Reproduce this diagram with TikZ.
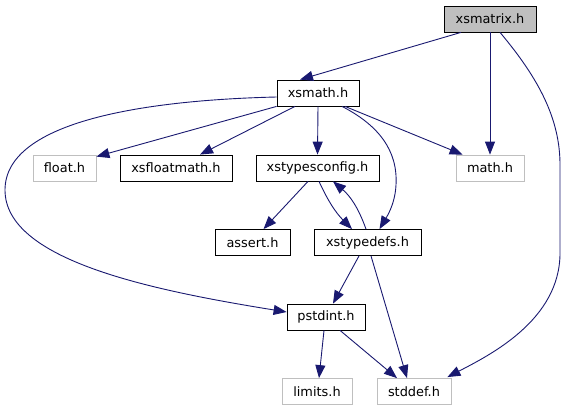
\documentclass[tikz,border=0pt]{standalone}
\usepackage{fontspec}
\setmainfont{DejaVu Sans}
\usetikzlibrary{arrows.meta}
\definecolor{edgeblue}{RGB}{25,25,112}
\definecolor{boxgray}{RGB}{191,191,191}

\begin{document}
\begin{tikzpicture}[x=1pt, y=-1pt, line width=0.8pt,
  every node/.style={font=\fontsize{12.9}{15}\selectfont, inner sep=0pt, minimum height=26pt},
  file/.style={draw=black},
  sysfile/.style={draw=boxgray},
  edge/.style={draw=edgeblue, line width=0.9pt, -{Triangle[length=13pt, width=10pt]}}]

\useasboundingbox (0,0) rectangle (567,411);

% Project headers
\node[file, fill=boxgray, minimum width=92pt] (xsmatrix) at (490,19) {xsmatrix.h};
\node[file, minimum width=82pt] (xsmath) at (318,93) {xsmath.h};
\node[file, minimum width=112pt] (xsfloatmath) at (176,168) {xsfloatmath.h};
\node[file, minimum width=123pt] (xstypesconfig) at (317.5,168) {xstypesconfig.h};
\node[file, minimum width=75pt] (assert) at (252.5,242.5) {assert.h};
\node[file, minimum width=107pt] (xstypedefs) at (367.5,242.5) {xstypedefs.h};
\node[file, minimum width=78pt] (pstdint) at (326,317) {pstdint.h};

% System headers
\node[sysfile, minimum width=63pt] (float) at (64.5,168) {float.h};
\node[sysfile, minimum width=68pt] (math) at (490,168) {math.h};
\node[sysfile, minimum width=70pt] (limits) at (317,391.5) {limits.h};
\node[sysfile, minimum width=74pt] (stddef) at (414,391.5) {stddef.h};

% Includes of xsmatrix.h
\draw[edge] ([xshift=-29pt]xsmatrix.south) -- ([xshift=-18pt]xsmath.north);
\draw[edge] (xsmatrix.south) -- (math.north);
\draw[edge] ([xshift=10pt]xsmatrix.south) .. controls (540,80) and (560,120) .. (560,165)
  -- (560,253) .. controls (560,320) and (490,355) .. ([xshift=-4pt,yshift=1pt]stddef.north east);

% Includes of xsmath.h
\draw[edge] (xsmath.south west) -- ([yshift=-2pt]float.north east);
\draw[edge] ([xshift=-23pt]xsmath.south) -- ([xshift=24pt]xsfloatmath.north);
\draw[edge] (xsmath.south) -- (xstypesconfig.north);
\draw[edge] ([xshift=27pt]xsmath.south) -- ([xshift=7pt]math.north west);
\draw[edge] ([xshift=24pt]xsmath.south) .. controls (378,125) and (398,150) .. (396,185)
  .. controls (395,205) and (386,218) .. ([xshift=12pt]xstypedefs.north);
\draw[edge] ([yshift=-4pt]xsmath.west) .. controls (150,100) and (5,120) .. (5,190)
  .. controls (5,260) and (150,290) .. ([yshift=5pt]pstdint.west);

% Includes of xstypesconfig.h and xstypedefs.h
\draw[edge] ([xshift=-9.5pt]xstypesconfig.south) -- ([xshift=11pt]assert.north);
\draw[edge] ([xshift=1.5pt]xstypesconfig.south) to[bend right=10] ([xshift=-15.5pt]xstypedefs.north);
\draw[edge] ([xshift=-1.5pt]xstypedefs.north) to[bend right=15] ([xshift=15.5pt]xstypesconfig.south);
\draw[edge] ([xshift=-8.5pt]xstypedefs.south) -- ([xshift=7pt]pstdint.north);
\draw[edge] ([xshift=3.5pt]xstypedefs.south) -- ([xshift=-7pt]stddef.north);

% Includes of pstdint.h
\draw[edge] ([xshift=-2pt]pstdint.south) -- ([xshift=2pt]limits.north);
\draw[edge] ([xshift=14pt]pstdint.south) -- ([xshift=-17pt]stddef.north);

\end{tikzpicture}
\end{document}
